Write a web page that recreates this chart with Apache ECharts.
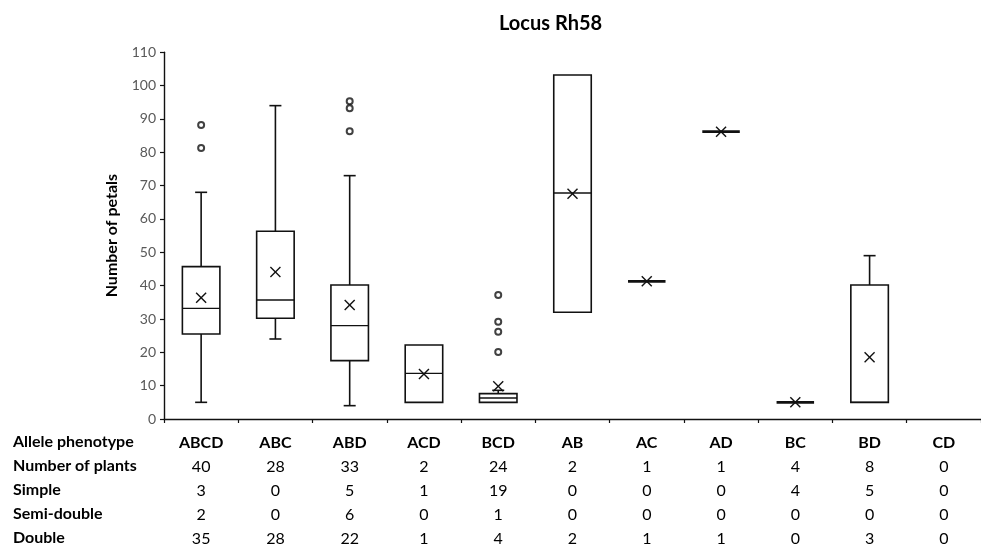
<!DOCTYPE html>
<html>
<head>
<meta charset="utf-8">
<script src="https://cdn.jsdelivr.net/npm/echarts@6/dist/echarts.min.js"></script>
<style>
html,body{margin:0;padding:0;background:#fff;}
#c{width:981px;height:547px;}
</style>
</head>
<body>
<div id="c"></div>
<script>
// ---- data ----
const categories = ['ABCD','ABC','ABD','ACD','BCD','AB','AC','AD','BC','BD','CD'];
// [min, Q1, median, Q3, max] per category (null = no data)
const boxStats = [
  [5, 25.5, 33.2, 45.7, 68],
  [24, 30.2, 35.7, 56.3, 94],
  [4, 17.5, 28, 40.2, 73],
  [5, 5, 13.7, 22.2, 22.2],
  [5, 5, 6.3, 7.6, 8.6],
  [32, 32, 67.8, 103.2, 103.2],
  [41.3, 41.3, 41.3, 41.3, 41.3],
  [86.2, 86.2, 86.2, 86.2, 86.2],
  [5, 5, 5, 5, 5],
  [5, 5, 5, 40.2, 49],
  null
];
const means = [36.4, 44.1, 34.2, 13.5, 9.8, 67.6, 41.3, 86.2, 5, 18.5, null];
// outliers: [categoryIndex, value]
const outliers = [
  [0, 88.2], [0, 81.3],
  [2, 95.3], [2, 93.2], [2, 86.3],
  [4, 37.2], [4, 29.2], [4, 26.2], [4, 20.1]
];
const rowLabels = ['Allele phenotype','Number of plants','Simple','Semi-double','Double'];
const nPlants    = [40, 28, 33, 2, 24, 2, 1, 1, 4, 8, 0];
const nSimple    = [3, 0, 5, 1, 19, 0, 0, 0, 4, 5, 0];
const nSemi      = [2, 0, 6, 0, 1, 0, 0, 0, 0, 0, 0];
const nDouble    = [35, 28, 22, 1, 4, 2, 1, 1, 0, 3, 0];
const yTicks = {min: 0, max: 110, interval: 10};

// ---- chart ----
const FONT = 'Lato';
const TFS = 16;
const chart = echarts.init(document.getElementById('c'), null, {renderer: 'canvas'});

const boxData = [];
boxStats.forEach((s, i) => { if (s) boxData.push([i].concat(s)); });

const option = {
  animation: false,
  backgroundColor: '#fff',
  title: {
    text: 'Locus Rh58',
    left: 494, top: 9,
    textStyle: {fontFamily: FONT, fontWeight: 'bold', fontSize: 20, color: '#000'}
  },
  grid: {left: 164, top: 52.3, width: 825, height: 367},
  xAxis: {
    type: 'category',
    data: categories,
    boundaryGap: true,
    axisLine: {lineStyle: {color: '#111', width: 1.4}},
    axisTick: {show: true, length: 4, inside: false, lineStyle: {color: '#111', width: 1.2}},
    axisLabel: {
      interval: 0,
      margin: 12,
      fontFamily: FONT,
      formatter: function (val, idx) {
        return '{h|' + val + '}\n{n|' + nPlants[idx] + '}\n{n|' + nSimple[idx] + '}\n{n|' + nSemi[idx] + '}\n{n|' + nDouble[idx] + '}';
      },
      rich: {
        h: {fontFamily: FONT, fontWeight: 'bold', fontSize: TFS, lineHeight: 24, color: '#000'},
        n: {fontFamily: FONT, fontSize: TFS, lineHeight: 24, color: '#000'}
      }
    },
    splitLine: {show: false}
  },
  yAxis: {
    type: 'value',
    min: yTicks.min, max: yTicks.max, interval: yTicks.interval,
    name: 'Number of petals',
    nameLocation: 'middle',
    nameGap: 44,
    nameTextStyle: {fontFamily: FONT, fontWeight: 'bold', fontSize: TFS, color: '#000'},
    axisLine: {show: true, lineStyle: {color: '#111', width: 1.4}},
    axisTick: {show: true, length: 4, lineStyle: {color: '#111', width: 1.2}},
    axisLabel: {fontFamily: FONT, fontSize: 14, color: '#595959', margin: 8},
    splitLine: {show: false}
  },
  graphic: rowLabels.map((t, i) => ({
    type: 'text',
    left: 13,
    top: 434 + i * 24,
    style: {text: t, fontFamily: FONT, fontWeight: 'bold', fontSize: TFS, fill: '#000'}
  })),
  series: [
    {
      type: 'custom',
      name: 'box',
      data: boxData,
      encode: {x: 0, y: [1, 2, 3, 4, 5]},
      renderItem: function (params, api) {
        const x = api.value(0);
        const mn = api.value(1), q1 = api.value(2), md = api.value(3), q3 = api.value(4), mx = api.value(5);
        const bw = api.size([1, 0])[0] * 0.505;
        const cap = 12;
        const pMin = api.coord([x, mn]), pQ1 = api.coord([x, q1]), pMd = api.coord([x, md]),
              pQ3 = api.coord([x, q3]), pMax = api.coord([x, mx]);
        const cx = pMd[0];
        const style = {stroke: '#111', lineWidth: 1.6, fill: 'none'};
        const children = [];
        if (q3 === q1) {
          children.push({type: 'line', shape: {x1: cx - bw / 2, y1: pMd[1], x2: cx + bw / 2, y2: pMd[1]}, style: {stroke: '#111', lineWidth: 2.8}});
        } else {
          children.push({type: 'rect', shape: {x: cx - bw / 2, y: pQ3[1], width: bw, height: pQ1[1] - pQ3[1]}, style: style});
          children.push({type: 'line', shape: {x1: cx - bw / 2, y1: pMd[1], x2: cx + bw / 2, y2: pMd[1]}, style: {stroke: '#111', lineWidth: 1.3}});
        }
        if (mx > q3) {
          children.push({type: 'line', shape: {x1: cx, y1: pQ3[1], x2: cx, y2: pMax[1]}, style: style});
          children.push({type: 'line', shape: {x1: cx - cap / 2, y1: pMax[1], x2: cx + cap / 2, y2: pMax[1]}, style: style});
        }
        if (mn < q1) {
          children.push({type: 'line', shape: {x1: cx, y1: pQ1[1], x2: cx, y2: pMin[1]}, style: style});
          children.push({type: 'line', shape: {x1: cx - cap / 2, y1: pMin[1], x2: cx + cap / 2, y2: pMin[1]}, style: style});
        }
        return {type: 'group', children: children};
      },
      z: 2
    },
    {
      type: 'custom',
      name: 'mean',
      data: means.map((m, i) => m === null ? null : [i, m]).filter(d => d),
      encode: {x: 0, y: 1},
      renderItem: function (params, api) {
        const p = api.coord([api.value(0), api.value(1)]);
        const h = 5;
        const st = {stroke: '#111', lineWidth: 1.4};
        return {type: 'group', children: [
          {type: 'line', shape: {x1: p[0] - h, y1: p[1] - h, x2: p[0] + h, y2: p[1] + h}, style: st},
          {type: 'line', shape: {x1: p[0] - h, y1: p[1] + h, x2: p[0] + h, y2: p[1] - h}, style: st}
        ]};
      },
      z: 3
    },
    {
      type: 'scatter',
      name: 'outliers',
      data: outliers,
      symbol: 'emptyCircle',
      symbolSize: 6,
      itemStyle: {color: '#111', borderWidth: 1.2},
      z: 3
    }
  ]
};
chart.setOption(option);
</script>
</body>
</html>
